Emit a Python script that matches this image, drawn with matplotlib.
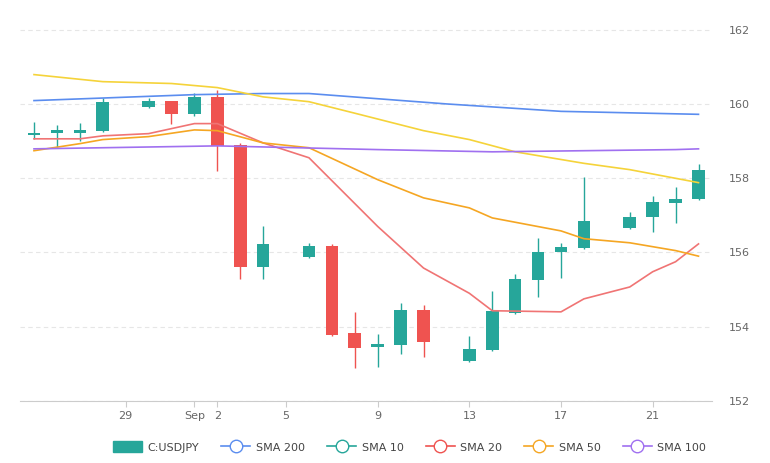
import matplotlib.pyplot as plt
from matplotlib.lines import Line2D
from matplotlib.patches import Patch

# day offsets from Aug 25
days = [0, 1, 2, 3, 5, 6, 7, 8, 9, 10, 12, 13, 14, 15, 16, 17, 19, 20, 21, 22, 23, 24, 26, 27, 28, 29]
opens = [159.17, 159.23, 159.22, 159.28, 159.92, 160.08, 159.73, 160.19, 158.90, 155.61, 155.88, 156.18, 153.83, 153.44,
         153.50, 154.45, 153.08, 153.37, 154.37, 155.26, 156.02, 156.12, 156.66, 156.96, 157.34, 157.44]
closes = [159.22, 159.28, 159.30, 160.06, 160.08, 159.73, 160.18, 158.87, 155.61, 156.23, 156.18, 153.78, 153.43, 153.54,
          154.45, 153.60, 153.40, 154.43, 155.29, 156.02, 156.15, 156.85, 156.95, 157.37, 157.44, 158.23]
highs = [159.50, 159.44, 159.48, 160.15, 160.15, 160.08, 160.30, 160.38, 158.95, 156.72, 156.26, 156.22, 154.40, 153.80,
         154.64, 154.59, 153.75, 154.96, 155.42, 156.39, 156.26, 158.04, 157.09, 157.53, 157.77, 158.39]
lows = [159.06, 158.85, 159.00, 159.25, 159.90, 159.47, 159.68, 158.20, 155.29, 155.29, 155.85, 153.75, 152.89, 152.92,
        153.27, 153.19, 153.05, 153.35, 154.35, 154.80, 155.30, 156.10, 156.64, 156.55, 156.80, 157.42]

blue_x = [0, 7, 10, 12, 18, 23, 29]
blue_y = [160.09, 160.25, 160.28, 160.28, 160.0, 159.8, 159.72]
yellow_x = [0, 3, 6, 8, 10, 12, 14, 17, 19, 21, 24, 26, 29]
yellow_y = [160.79, 160.6, 160.55, 160.44, 160.19, 160.06, 159.75, 159.28, 159.04, 158.71, 158.4, 158.23, 157.88]
red_x = [0, 2, 3, 5, 7, 8, 10, 12, 15, 17, 19, 20, 23, 24, 26, 27, 28, 29]
red_y = [159.06, 159.06, 159.14, 159.2, 159.47, 159.47, 158.95, 158.55, 156.7, 155.58, 154.9, 154.43, 154.4, 154.75,
         155.07, 155.48, 155.75, 156.23]
orange_x = [0, 2, 3, 5, 7, 8, 10, 12, 15, 17, 19, 20, 23, 24, 26, 28, 29]
orange_y = [158.74, 158.93, 159.04, 159.12, 159.3, 159.28, 158.95, 158.82, 157.96, 157.47, 157.2, 156.93, 156.58,
            156.37, 156.26, 156.05, 155.9]
purple_x = [0, 8, 15, 20, 28, 29]
purple_y = [158.79, 158.87, 158.77, 158.71, 158.77, 158.79]

tick_pos = [4, 7, 8, 11, 15, 19, 23, 27]
tick_labels = ['29', 'Sep', '2', '5', '9', '13', '17', '21']

UP = '#26a69a'
DOWN = '#ef5350'

fig = plt.figure(figsize=(7.7, 4.63), dpi=100)
ax = fig.add_axes([0.026, 0.134, 0.899, 0.834])

for x, y, c in [(blue_x, blue_y, '#5b8def'), (yellow_x, yellow_y, '#f5d33a'), (red_x, red_y, '#f07474'),
                (orange_x, orange_y, '#f5a623'), (purple_x, purple_y, '#a070f0')]:
    ax.plot(x, y, color=c, lw=1.2, zorder=3)

for d, o, c, h, l in zip(days, opens, closes, highs, lows):
    col = UP if c >= o else DOWN
    ax.vlines(d, l, h, color=col, lw=1, zorder=2)
    lo, hi = min(o, c), max(o, c)
    ax.bar(d, max(hi - lo, 0.06), bottom=lo if hi - lo >= 0.06 else (lo + hi) / 2 - 0.03, width=0.55,
           color=col, zorder=2)

ax.set_xlim(-0.61, 29.6)
ax.set_ylim(152, 162.4)
ax.set_yticks([152, 154, 156, 158, 160, 162])
ax.yaxis.tick_right()
ax.set_xticks(tick_pos)
ax.set_xticklabels(tick_labels)
ax.tick_params(axis='y', length=0, labelsize=8, colors='#666666', pad=12)
ax.tick_params(axis='x', length=4, labelsize=8, colors='#666666', color='#cccccc')
ax.grid(axis='y', color='#e6e6e6', ls=(0, (4, 3)), lw=0.8)
for s in ['top', 'left', 'right']:
    ax.spines[s].set_visible(False)
ax.spines['bottom'].set_color('#cccccc')

handles = [Patch(color=UP)]
for c in ['#5b8def', '#26a69a', '#ef5350', '#f5a623', '#a070f0']:
    handles.append(Line2D([], [], color=c, marker='o', markerfacecolor='white', markersize=9, lw=1.2))
fig.legend(handles, ['C:USDJPY', 'SMA 200', 'SMA 10', 'SMA 20', 'SMA 50', 'SMA 100'],
           loc='center', bbox_to_anchor=(0.532, 0.035), ncol=6, frameon=False, fontsize=8,
           handlelength=2.6, handleheight=1.2, columnspacing=2.0, handletextpad=0.5, labelcolor='#444444')

fig.savefig('out.png', dpi=100)
